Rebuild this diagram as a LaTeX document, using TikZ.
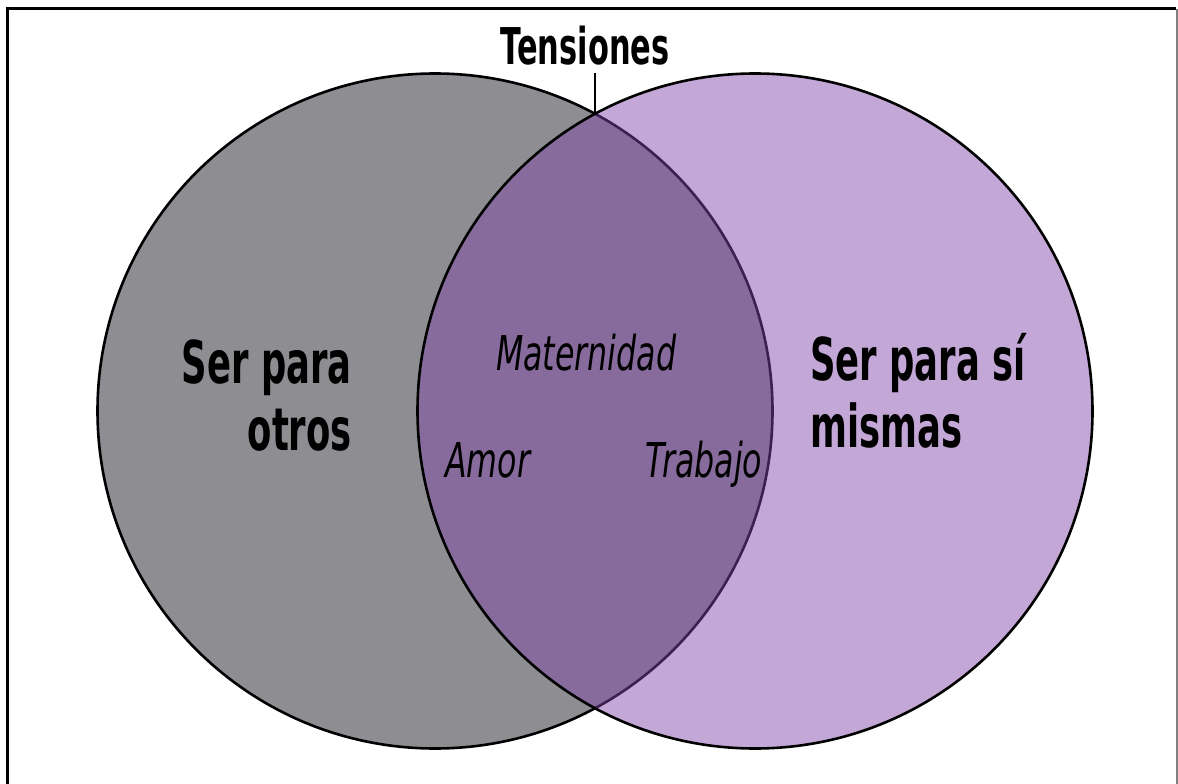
\documentclass[tikz,border=0pt]{standalone}
\usepackage{fontspec}
\newfontfamily\agb[FakeStretch=0.6]{DejaVu Sans}
\newfontfamily\agi[FakeStretch=0.66]{DejaVu Sans}
\definecolor{grayset}{RGB}{142,141,146}
\definecolor{purpset}{RGB}{129,70,168}
\tikzset{
  setcircle/.style={line width=2.6pt, draw=black},
  bigtxt/.style={font=\agb\bfseries\fontsize{59}{67}\selectfont, inner sep=0pt},
  ittxt/.style={font=\agi\itshape\fontsize{48}{56}\selectfont, inner sep=0pt},
}
\begin{document}
\begin{tikzpicture}[x=1pt,y=-1pt]
\useasboundingbox (0,0) rectangle (1178,784);
\fill[white] (0,0) rectangle (1178,784);
\clip (0,0) rectangle (1178,784);
% frame
\draw[line width=3pt] (7,800) -- (7,9) -- (1176,9);
\draw[line width=1.2pt, gray] (1177,9) -- (1177,800);
% circles
\draw[setcircle, fill=grayset] (435,411) circle[radius=337.5pt];
\draw[setcircle, fill=purpset, fill opacity=0.47] (755,411) circle[radius=337.5pt];
\coordinate (top) at (595,114);
% labels
\node[font=\agb\bfseries\fontsize{50.7}{56}\selectfont, inner sep=0pt, anchor=base] (tens) at (585,65) {Tensiones};
\draw[line width=2pt] (top) -- (595,73);
\node[bigtxt, anchor=base east, align=right] (otros) at (352,450) {Ser para\\otros};
\node[bigtxt, anchor=base west, align=left] (mismas) at (810,447) {Ser para sí\\mismas};
\node[ittxt, anchor=base west] (mat) at (496,370) {Maternidad};
\node[ittxt, anchor=base west] (amor) at (445,477) {Amor};
\node[ittxt, anchor=base west] (trab) at (645,477) {Trabajo};
\end{tikzpicture}
\end{document}
